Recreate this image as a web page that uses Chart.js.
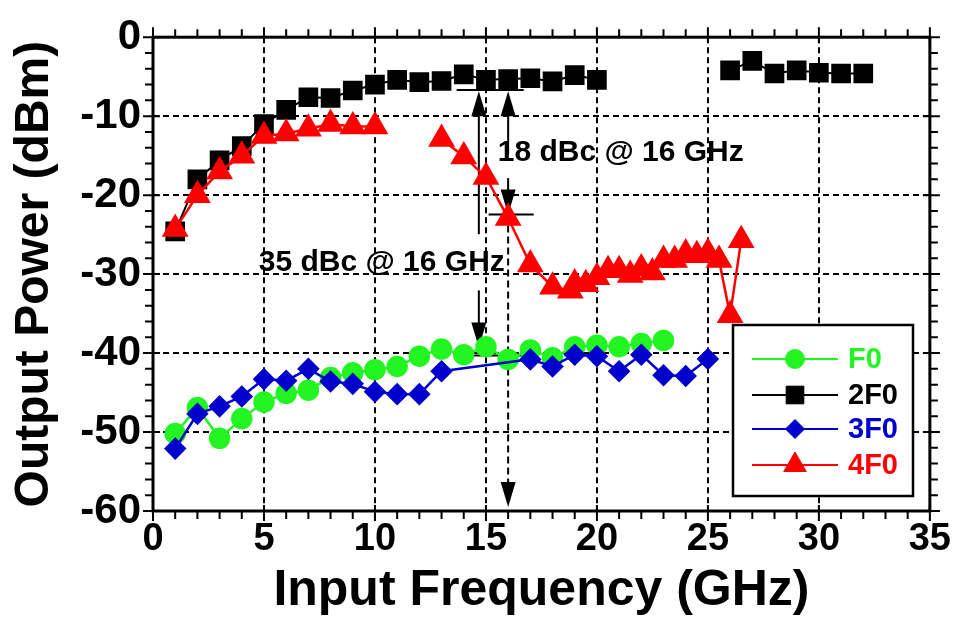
<!DOCTYPE html>
<html lang="en">
<head>
<meta charset="UTF-8">
<title>Output Power vs Input Frequency</title>
<script src="https://cdn.jsdelivr.net/npm/chart.js@4"></script>
<style>
  html, body { margin: 0; padding: 0; background: #fff; }
  canvas { display: block; }
</style>
</head>
<body>
<canvas id="chart" width="957" height="623"></canvas>
<script>
// Tick values
const xTicks = [0, 5, 10, 15, 20, 25, 30, 35];
const yTicks = [-60, -50, -40, -30, -20, -10, 0];

// F0 (fundamental)
const freqF0 = [1, 2, 3, 4, 5, 6, 7, 8, 9, 10, 11, 12, 13, 14, 15, 16, 17, 18, 19, 20, 21, 22, 23];
const powF0 = [-50.2, -46.9, -50.8, -48.3, -46.2, -45.1, -44.7, -43.1, -42.5, -42.1, -41.7, -40.4,
  -39.5, -40.2, -39.2, -40.8, -39.6, -40.6, -39.2, -39.0, -39.2, -38.8, -38.4];

// 2F0 (null = break in the curve)
const freq2F0 = [1, 2, 3, 4, 5, 6, 7, 8, 9, 10, 11, 12, 13, 14, 15, 16, 17, 18, 19, 20, 23, 26, 27, 28, 29, 30, 31, 32];
const pow2F0 = [-24.6, -18.0, -15.6, -13.8, -11.0, -9.2, -7.6, -7.7, -6.75, -6.0, -5.4, -5.7,
  -5.55, -4.7, -5.4, -5.3, -5.2, -5.6, -4.8, -5.4, null, -4.2, -3.0, -4.6, -4.2, -4.5, -4.6, -4.6];

// 3F0
const freq3F0 = [1, 2, 3, 4, 5, 6, 7, 8, 9, 10, 11, 12, 13, 17, 18, 19, 20, 21, 22, 23, 24, 25];
const pow3F0 = [-52.1, -47.7, -46.75, -45.5, -43.3, -43.5, -42.0, -43.6, -43.9, -44.9, -45.2, -45.2,
  -42.3, -40.8, -41.7, -40.2, -40.4, -42.3, -40.2, -42.8, -42.9, -40.75];

// 4F0
const freq4F0 = [1, 2, 3, 4, 5, 6, 7, 8, 9, 10, 11.5, 13, 14, 15, 16, 17, 18, 18.8, 19, 19.5, 20,
  20.5, 21, 21.5, 22, 22.5, 23, 23.5, 24, 24.5, 25, 25.5, 26, 26.5];
const pow4F0 = [-24.3, -20.0, -17.0, -15.0, -12.5, -12.2, -11.6, -11.0, -11.3, -11.3, null, -12.9,
  -15.1, -17.7, -22.9, -28.8, -31.6, -32.1, -31.2, -31.3, -30.4, -29.5, -29.5, -30.1, -29.3, -29.8,
  -28.2, -28.2, -27.4, -27.6, -27.3, -28.2, -35.2, -25.7];

const FONT = '"Liberation Sans", Arial, sans-serif';
const GREEN = '#22f522';
const BLUE = '#0000cc';
const RED = '#ff0000';

function pts(xs, ys) {
    return xs.map((v, i) => ({ x: v, y: ys[i] }));
}

// Маркер для легенды (те же формы, что и у Chart.js)
function marker(ctx, style, x, y, r, color) {
    ctx.save();
    ctx.fillStyle = color;
    ctx.strokeStyle = color;
    ctx.lineWidth = 1;
    ctx.beginPath();
    if (style === 'circle') {
        ctx.arc(x, y, r, 0, Math.PI * 2);
    } else if (style === 'rect') {
        const s = r * Math.SQRT1_2;
        ctx.rect(x - s, y - s, 2 * s, 2 * s);
    } else if (style === 'rectRot') {
        ctx.moveTo(x - r, y); ctx.lineTo(x, y - r); ctx.lineTo(x + r, y); ctx.lineTo(x, y + r);
        ctx.closePath();
    } else {
        ctx.moveTo(x, y - r);
        ctx.lineTo(x + r * 0.866, y + r * 0.5);
        ctx.lineTo(x - r * 0.866, y + r * 0.5);
        ctx.closePath();
    }
    ctx.fill();
    ctx.stroke();
    ctx.restore();
}

function arrowHead(ctx, x, tipY, dir) {
    // dir = -1: вверх, 1: вниз
    ctx.beginPath();
    ctx.moveTo(x, tipY);
    ctx.lineTo(x - 7.5, tipY - dir * 25);
    ctx.lineTo(x + 7.5, tipY - dir * 25);
    ctx.closePath();
    ctx.fill();
}

// Аннотации: стрелки dBc, рамка, засечки, легенда
const annotations = {
    id: 'annotations',
    beforeDatasetsDraw(chart) {
        const { ctx, scales: { x, y } } = chart;
        const X = v => x.getPixelForValue(v);
        const Y = v => y.getPixelForValue(v);
        ctx.save();
        ctx.strokeStyle = '#000';
        ctx.fillStyle = '#000';
        ctx.lineWidth = 2;

        const line = (x1, y1, x2, y2) => {
            ctx.beginPath(); ctx.moveTo(x1, y1); ctx.lineTo(x2, y2); ctx.stroke();
        };

        // опорные уровни
        line(X(13.68), Y(-6.7), X(16.7), Y(-6.7));
        line(X(15.12), Y(-22.45), X(17.15), Y(-22.45));
        line(X(14.36), Y(-40.3), X(17.28), Y(-40.3));

        // стрелка 35 dBc
        const a1 = X(14.68);
        line(a1, Y(-6.86) + 20, a1, Y(-24.95));
        arrowHead(ctx, a1, Y(-6.86), -1);
        line(a1, Y(-32.06), a1, Y(-39.3) - 20);
        arrowHead(ctx, a1, Y(-39.3), 1);

        // стрелка 18 dBc
        const a2 = X(16);
        line(a2, Y(-6.86) + 20, a2, Y(-14.72));
        arrowHead(ctx, a2, Y(-6.86), -1);
        line(a2, Y(-17.84), a2, Y(-22.45) - 20);
        arrowHead(ctx, a2, Y(-22.45), 1);

        // пунктир вниз на 16 GHz
        ctx.setLineDash([7, 4]);
        line(a2, Y(-22.45), a2, Y(-59.5) - 20);
        ctx.setLineDash([]);
        arrowHead(ctx, a2, Y(-59.5), 1);

        ctx.font = 'bold 30px ' + FONT;
        ctx.textBaseline = 'middle';
        ctx.textAlign = 'left';
        ctx.fillText('18 dBc @ 16 GHz', X(15.53), Y(-14.6));
        ctx.textAlign = 'right';
        ctx.fillText('35 dBc @ 16 GHz', X(15.85), Y(-28.5));
        ctx.restore();
    },
    afterDraw(chart) {
        const { ctx, chartArea: a, scales: { x, y } } = chart;
        ctx.save();
        ctx.strokeStyle = '#000';

        // рамка
        ctx.lineWidth = 3;
        ctx.strokeRect(a.left, a.top, a.right - a.left, a.bottom - a.top);

        // засечки со всех сторон
        ctx.lineWidth = 2;
        ctx.beginPath();
        for (let v = 0; v <= 35; v++) {
            const px = x.getPixelForValue(v);
            const major = v % 5 === 0;
            ctx.moveTo(px, a.bottom + (major ? 10 : 8)); ctx.lineTo(px, a.bottom - (major ? 6 : 0));
            ctx.moveTo(px, a.top - (major ? 10 : 8)); ctx.lineTo(px, a.top + (major ? 6 : 0));
        }
        for (let v = -60; v <= 0; v += 2) {
            const py = y.getPixelForValue(v);
            const major = v % 10 === 0;
            ctx.moveTo(a.left - (major ? 10 : 8), py); ctx.lineTo(a.left + (major ? 7 : 0), py);
            ctx.moveTo(a.right + (major ? 10 : 8), py); ctx.lineTo(a.right - (major ? 7 : 0), py);
        }
        ctx.stroke();

        // легенда
        const bx = 733, by = 325, bw = 180, bh = 171;
        ctx.fillStyle = '#fff';
        ctx.fillRect(bx, by, bw, bh);
        ctx.lineWidth = 2.5;
        ctx.strokeRect(bx, by, bw, bh);
        const rows = [359, 395, 429, 465];
        ctx.font = 'bold 29px ' + FONT;
        ctx.textBaseline = 'middle';
        ctx.textAlign = 'left';
        chart.data.datasets.forEach((ds, i) => {
            const ry = rows[i];
            ctx.strokeStyle = ds.borderColor;
            ctx.lineWidth = 2;
            ctx.beginPath(); ctx.moveTo(752, ry); ctx.lineTo(838, ry); ctx.stroke();
            marker(ctx, ds.pointStyle, 795, ry, ds.pointRadius, ds.borderColor);
            ctx.fillStyle = ds.borderColor;
            ctx.fillText(ds.label, 848, ry + 1);
        });
        ctx.restore();
    }
};

const edgeless = (edges) => c => (c.tick && edges.includes(c.tick.value)) ? 'rgba(0,0,0,0)' : '#000';

new Chart(document.getElementById('chart'), {
    type: 'line',
    data: {
        datasets: [
            { label: 'F0', data: pts(freqF0, powF0), borderColor: GREEN, backgroundColor: GREEN,
              pointStyle: 'circle', pointRadius: 9.5, borderWidth: 2.5, order: 3 },
            { label: '2F0', data: pts(freq2F0, pow2F0), borderColor: '#000', backgroundColor: '#000',
              pointStyle: 'rect', pointRadius: 12.5, borderWidth: 2, order: 2 },
            { label: '3F0', data: pts(freq3F0, pow3F0), borderColor: BLUE, backgroundColor: BLUE,
              pointStyle: 'rectRot', pointRadius: 9.5, borderWidth: 2.5, order: 1 },
            { label: '4F0', data: pts(freq4F0, pow4F0), borderColor: RED, backgroundColor: RED,
              pointStyle: 'triangle', pointRadius: 13, borderWidth: 2.5, order: 0 }
        ]
    },
    options: {
        responsive: false,
        animation: false,
        devicePixelRatio: 1,
        layout: { padding: { top: 30, right: 26, left: 0, bottom: 0 } },
        elements: { point: { borderWidth: 1 }, line: { tension: 0 } },
        plugins: { legend: { display: false }, tooltip: { enabled: false } },
        scales: {
            x: {
                type: 'linear', min: 0, max: 35,
                afterBuildTicks: s => { s.ticks = xTicks.map(v => ({ value: v })); },
                afterFit: s => { s.height = 112; },
                grid: { color: edgeless([0, 35]), lineWidth: 2, drawTicks: false },
                border: { display: false, dash: [6, 4] },
                ticks: { color: '#000', padding: 6, autoSkip: false, maxRotation: 0,
                         font: { family: FONT, size: 38, weight: 'bold' } },
                title: { display: true, text: 'Input Frequency (GHz)', color: '#000',
                         padding: { top: 0, bottom: 2 },
                         font: { family: FONT, size: 50, weight: 'bold' } }
            },
            y: {
                type: 'linear', min: -60, max: 0,
                afterBuildTicks: s => { s.ticks = yTicks.map(v => ({ value: v })); },
                afterFit: s => { s.width = 153; },
                grid: { color: edgeless([0, -60]), lineWidth: 2, drawTicks: false },
                border: { display: false, dash: [6, 4] },
                ticks: { color: '#000', padding: 12, autoSkip: false,
                         font: { family: FONT, size: 42, weight: 'bold' } },
                title: { display: true, text: 'Output Power (dBm)', color: '#000',
                         padding: { top: 6, bottom: 0 },
                         font: { family: FONT, size: 48, weight: 'bold' } }
            }
        }
    },
    plugins: [annotations]
});
</script>
</body>
</html>
